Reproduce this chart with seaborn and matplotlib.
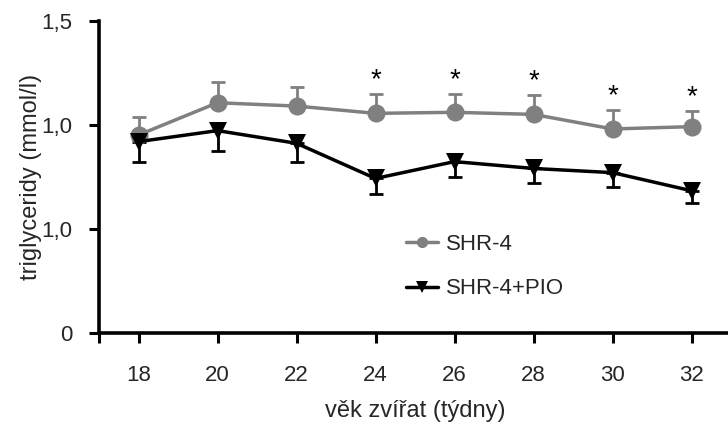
import numpy as np
import pandas as pd
import matplotlib
matplotlib.use("Agg")
import matplotlib.pyplot as plt
import seaborn as sns

weeks = [18, 20, 22, 24, 26, 28, 30, 32]
shr4 = [0.952, 1.107, 1.091, 1.056, 1.061, 1.051, 0.981, 0.992]
shr4_se = [0.085, 0.100, 0.092, 0.092, 0.087, 0.093, 0.090, 0.074]
shr4pio = [0.920, 0.973, 0.912, 0.743, 0.824, 0.791, 0.771, 0.684]
shr4pio_se = [0.096, 0.096, 0.088, 0.077, 0.072, 0.072, 0.070, 0.061]
signif = ["", "", "", "*", "*", "*", "*", "*"]
series_names = ["SHR-4", "SHR-4+PIO"]
ytick_vals = [0, 0.5, 1.0, 1.5]
ytick_labels = ["0", "1,0", "1,0", "1,5"]
xtick_vals = [17, 18, 20, 22, 24, 26, 28, 30, 32]
xtick_labels = ["", "18", "20", "22", "24", "26", "28", "30", "32"]

sns.set_theme(style="white")
plt.rcParams["font.family"] = ["Liberation Sans", "DejaVu Sans"]

df = pd.DataFrame({
    "week": weeks * 2,
    "value": shr4 + shr4pio,
    "group": [series_names[0]] * len(weeks) + [series_names[1]] * len(weeks),
})

fig = plt.figure(figsize=(7.28, 4.28), dpi=100)
ax = fig.add_axes([99 / 728, 95 / 428, 632 / 728, 312 / 428])

gray = "#808080"
colors = {series_names[0]: gray, series_names[1]: "black"}
markers = {series_names[0]: "o", series_names[1]: "v"}

# error bars (one-sided)
ax.errorbar(weeks, shr4, yerr=[np.zeros(len(weeks)), shr4_se], fmt="none",
            ecolor=gray, elinewidth=2, capsize=5, capthick=2, zorder=1)
ax.errorbar(weeks, shr4pio, yerr=[shr4pio_se, np.zeros(len(weeks))], fmt="none",
            ecolor="black", elinewidth=2, capsize=5, capthick=2, zorder=1)

sns.lineplot(data=df, x="week", y="value", hue="group", style="group",
             palette=colors, markers=markers, dashes=False, linewidth=2.5,
             markersize=13, markeredgewidth=0, ax=ax, zorder=3,
             hue_order=series_names, style_order=series_names)

for w, v, se, s in zip(weeks, shr4, shr4_se, signif):
    if s:
        ax.annotate(s, xy=(w, v + se), xytext=(0, 5), textcoords="offset points",
                    ha="center", va="baseline", fontsize=20, color="black")

ax.set_xlim(17, 33)
ax.set_ylim(0, 1.5)
ax.set_yticks(ytick_vals)
ax.set_yticklabels(ytick_labels, fontsize=16)
ax.set_xticks(xtick_vals)
ax.set_xticklabels(xtick_labels, fontsize=16)
ax.tick_params(axis="both", which="major", length=7, width=2.2, color="black",
               direction="out", left=True, bottom=True)
ax.tick_params(axis="x", pad=16)
ax.tick_params(axis="y", pad=12)
for side in ["top", "right"]:
    ax.spines[side].set_visible(False)
for side in ["left", "bottom"]:
    ax.spines[side].set_linewidth(2.6)
    ax.spines[side].set_color("black")

ax.set_xlabel("věk zvířat (týdny)", fontsize=17, labelpad=10)
ax.set_ylabel("triglyceridy (mmol/l)", fontsize=17, labelpad=0)

handles, labels = ax.get_legend_handles_labels()
leg = ax.legend(handles, labels, loc="upper left", bbox_to_anchor=(0.472, 0.347),
                frameon=False, fontsize=16, labelspacing=1.07, handlelength=1.45,
                handletextpad=0.36, borderaxespad=0, markerscale=0.62)

fig.savefig("out.png", dpi=100)
